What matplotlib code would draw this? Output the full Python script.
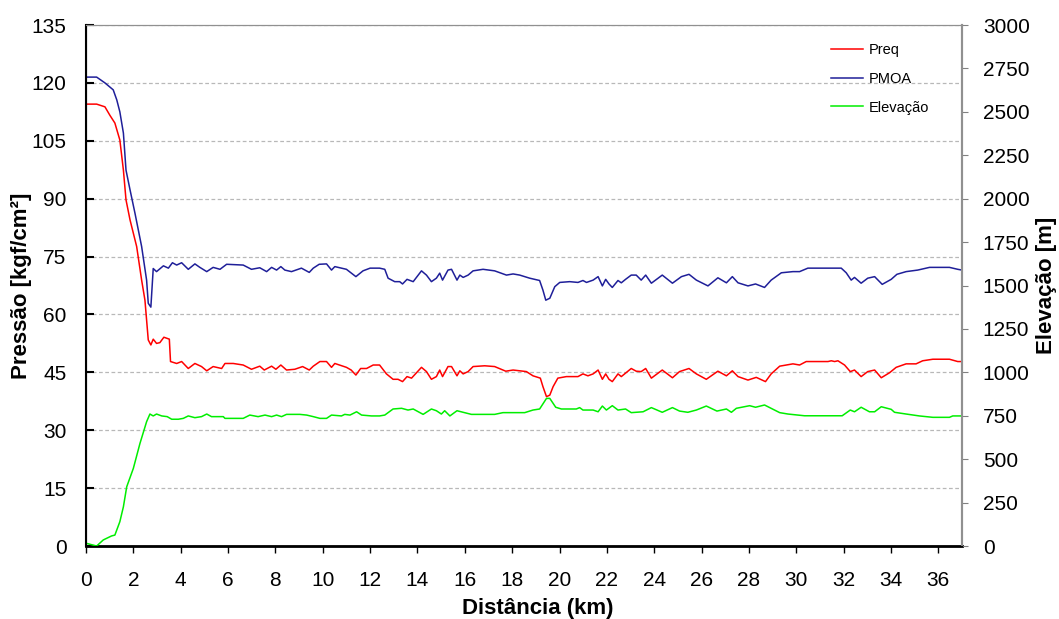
import matplotlib
matplotlib.use("Agg")
from matplotlib import pyplot as plt

plt.rcParams['font.family'] = ['Liberation Sans', 'DejaVu Sans']

# PMOA (kgf/cm2) - distance in km
pmoa_km = [0, 0.45, 0.8, 1.15, 1.3, 1.43, 1.58, 1.69, 1.86, 2.07, 2.35, 2.56, 2.63, 2.74, 2.84, 2.98,
           3.27, 3.48, 3.65, 3.83, 4.04, 4.32, 4.6, 4.81, 5.1, 5.37, 5.66, 5.94, 6.64, 6.99, 7.34, 7.63,
           7.84, 8.05, 8.23, 8.4, 8.68, 9.1, 9.43, 9.6, 9.85, 10.16, 10.37, 10.51, 11.0, 11.4, 11.7, 12.0,
           12.4, 12.62, 12.76, 13.04, 13.25, 13.37, 13.56, 13.82, 14.17, 14.38, 14.59, 14.8, 14.94, 15.06,
           15.29, 15.44, 15.67, 15.79, 15.93, 16.14, 16.35, 16.77, 17.26, 17.76, 18.04, 18.32, 18.74, 19.16,
           19.3, 19.42, 19.59, 19.8, 20.01, 20.43, 20.78, 20.99, 21.14, 21.42, 21.63, 21.81, 21.95, 22.09,
           22.23, 22.47, 22.61, 22.79, 23.03, 23.24, 23.45, 23.64, 23.88, 24.34, 24.77, 25.15, 25.47, 25.78,
           26.27, 26.69, 27.05, 27.3, 27.54, 27.96, 28.28, 28.66, 28.94, 29.37, 29.86, 30.14, 30.49, 31.9,
           32.11, 32.32, 32.46, 32.74, 33.02, 33.31, 33.63, 34.01, 34.25, 34.64, 35.13, 35.63, 36.47, 36.82, 37.0]
pmoa = [121.5, 121.5, 120, 118.2, 115.6, 112.5, 107, 97.4, 92.3, 86.2, 77.6, 68.9, 62.9, 61.9, 71.9, 71.1,
        72.6, 72.0, 73.4, 72.8, 73.4, 71.7, 73.1, 72.2, 71.1, 72.2, 71.7, 73.0, 72.8, 71.7, 72.1, 71.1,
        72.2, 71.5, 72.4, 71.5, 71.1, 72.0, 70.9, 72.0, 73.0, 73.1, 71.5, 72.4, 71.7, 69.8, 71.3, 72.0,
        72.0, 71.7, 69.4, 68.5, 68.5, 67.9, 69.1, 68.5, 71.3, 70.2, 68.5, 69.4, 70.7, 68.9,
        71.5, 71.7, 68.9, 70.2, 69.6, 70.2, 71.3, 71.7, 71.3, 70.2, 70.5, 70.2, 69.4, 68.8,
        66.3, 63.7, 64.2, 67.2, 68.3, 68.5, 68.3, 68.8, 68.3, 68.9, 69.8, 67.4, 69.1, 67.9,
        67.0, 68.8, 68.2, 69.1, 70.2, 70.2, 68.9, 70.2, 68.1, 70.2, 68.1, 69.8, 70.4, 68.9,
        67.4, 69.5, 68.2, 69.8, 68.2, 67.4, 67.9, 67.0, 68.9, 70.8, 71.1, 71.1, 72.0, 72.0,
        70.8, 68.9, 69.6, 68.1, 69.4, 69.8, 67.8, 69.1, 70.4, 71.1, 71.5, 72.2, 72.2, 71.7, 71.5]

# Preq (kgf/cm2)
preq_km = [0, 0.45, 0.8, 1.01, 1.22, 1.43, 1.58, 1.69, 1.86, 2.14, 2.35, 2.49, 2.63, 2.74, 2.84, 2.98,
           3.12, 3.29, 3.52, 3.57, 3.83, 4.04, 4.32, 4.6, 4.88, 5.1, 5.37, 5.73, 5.87, 6.22, 6.64, 6.99,
           7.34, 7.53, 7.84, 8.02, 8.23, 8.47, 8.82, 9.15, 9.43, 9.6, 9.88, 10.16, 10.37, 10.51, 11.0, 11.2,
           11.4, 11.6, 11.85, 12.13, 12.4, 12.69, 12.97, 13.18, 13.37, 13.56, 13.75, 14.17, 14.38, 14.59,
           14.8, 14.94, 15.06, 15.29, 15.44, 15.67, 15.79, 15.93, 16.14, 16.35, 16.84, 17.26, 17.73, 18.04,
           18.6, 18.88, 19.19, 19.3, 19.45, 19.59, 19.73, 19.93, 20.29, 20.78, 20.99, 21.2, 21.42, 21.63,
           21.81, 21.95, 22.09, 22.23, 22.47, 22.61, 22.79, 23.03, 23.24, 23.45, 23.64, 23.88, 24.34, 24.77,
           25.07, 25.47, 25.78, 26.2, 26.69, 27.05, 27.3, 27.54, 27.96, 28.31, 28.7, 28.94, 29.3, 29.86,
           30.14, 30.42, 31.34, 31.48, 31.62, 31.76, 32.04, 32.28, 32.46, 32.74, 33.02, 33.31, 33.59, 33.94,
           34.22, 34.64, 35.06, 35.34, 35.77, 36.47, 36.82, 37.0]
preq = [114.5, 114.5, 113.8, 111.6, 109.6, 105.2, 97.4, 89.7, 84.5, 77.6, 68.9, 63.7, 53.4, 52.1, 53.6, 52.5,
        52.7, 54.1, 53.6, 47.8, 47.3, 47.8, 46.0, 47.3, 46.5, 45.4, 46.5, 46.0, 47.3, 47.3, 46.9, 45.8,
        46.6, 45.6, 46.6, 45.8, 46.9, 45.6, 45.8, 46.5, 45.6, 46.6, 47.8, 47.8, 46.3, 47.3, 46.3, 45.6,
        44.3, 46.0, 46.0, 46.9, 46.9, 44.6, 43.2, 43.2, 42.6, 43.9, 43.5, 46.3, 45.2, 43.2,
        43.9, 45.6, 43.9, 46.5, 46.5, 44.1, 45.4, 44.6, 45.2, 46.5, 46.7, 46.5, 45.3, 45.6,
        45.2, 44.1, 43.5, 41.3, 38.7, 39.1, 41.3, 43.5, 43.9, 43.9, 44.6, 44.1, 44.6, 45.6,
        43.2, 44.6, 43.2, 42.6, 44.6, 43.9, 44.8, 46.0, 45.3, 45.2, 46.0, 43.5, 45.6, 43.6,
        45.2, 46.0, 44.6, 43.2, 45.3, 44.1, 45.4, 43.9, 43.0, 43.7, 42.6, 44.6, 46.6, 47.2,
        46.9, 47.8, 47.8, 48.0, 47.8, 48.0, 46.9, 45.2, 45.6, 43.9, 45.2, 45.6, 43.6, 44.9,
        46.3, 47.2, 47.2, 48.0, 48.4, 48.4, 47.8, 47.8]

# Elevacao (m)
elev_km = [0, 0.03, 0.45, 0.73, 1.08, 1.22, 1.43, 1.58, 1.72, 2.0, 2.28, 2.56, 2.7, 2.84, 2.98, 3.2,
           3.43, 3.62, 3.9, 4.11, 4.32, 4.6, 4.88, 5.1, 5.3, 5.8, 5.87, 6.64, 6.92, 7.27, 7.56, 7.84,
           8.05, 8.26, 8.47, 9.03, 9.32, 9.6, 9.88, 10.16, 10.37, 10.79, 10.93, 11.15, 11.43, 11.64, 12.06,
           12.4, 12.62, 12.97, 13.33, 13.6, 13.82, 14.24, 14.59, 14.8, 15.01, 15.15, 15.37, 15.67, 15.93,
           16.28, 17.26, 17.61, 18.53, 18.88, 19.16, 19.45, 19.59, 19.84, 20.08, 20.71, 20.85, 20.99, 21.42,
           21.63, 21.81, 21.98, 22.23, 22.47, 22.79, 23.03, 23.53, 23.88, 24.34, 24.77, 25.07, 25.42, 25.78,
           26.2, 26.65, 27.05, 27.26, 27.47, 28.03, 28.28, 28.66, 29.3, 29.65, 30.35, 31.94, 32.28, 32.46,
           32.74, 33.09, 33.31, 33.59, 34.01, 34.15, 34.64, 35.2, 35.77, 36.47, 36.61, 37.0]
elev = [10, 15, 0, 35, 58, 63, 140, 226, 341, 447, 591, 716, 760, 749, 760, 749,
        745, 730, 730, 735, 749, 739, 745, 760, 745, 745, 735, 735, 754, 745, 754, 745,
        754, 745, 758, 758, 754, 745, 735, 735, 754, 749, 758, 754, 773, 754, 749,
        749, 754, 789, 793, 783, 789, 758, 789, 779, 760, 779, 749, 779, 770,
        758, 758, 768, 768, 783, 789, 850, 850, 799, 789, 789, 797, 783, 783,
        773, 806, 783, 808, 783, 789, 768, 773, 797, 770, 797, 777, 770, 783,
        806, 777, 789, 770, 793, 808, 799, 812, 768, 760, 750, 750, 783, 773,
        799, 773, 773, 802, 787, 770, 760, 749, 741, 741, 749, 749]

fig, ax = plt.subplots(figsize=(10.59, 6.19), dpi=100)
fig.subplots_adjust(left=0.0812, right=0.9084, top=0.9596, bottom=0.1179)
ax2 = ax.twinx()

l1, = ax.plot(preq_km, preq, color='#ff0000', lw=1.1, label='Preq')
l2, = ax.plot(pmoa_km, pmoa, color='#1f1f99', lw=1.1, label='PMOA')
l3, = ax2.plot(elev_km, elev, color='#00ee00', lw=1.1, label='Elevação')

ax.set_xlim(0, 37)
ax.set_ylim(0, 135)
ax.set_xticks(range(0, 37, 2))
ax.set_yticks(range(0, 136, 15))
ax2.set_ylim(0, 3000)
ax2.set_yticks(range(0, 3001, 250))

ax.yaxis.grid(True, linestyle=(0, (3, 2)), color='#b8b8b8', lw=0.9)
ax.set_axisbelow(True)

ax.tick_params(axis='both', labelsize=15)
ax.tick_params(axis='y', direction='in', length=6, width=1.5, pad=14)
ax.tick_params(axis='x', direction='out', length=5, width=1, pad=13)
ax2.tick_params(axis='y', labelsize=15, direction='out', length=4, color='#808080', pad=11)

for a in (ax, ax2):
    a.spines['top'].set_color('#909090')
    a.spines['right'].set_color('#909090')
    a.spines['right'].set_linewidth(1.5)
ax.spines['left'].set_linewidth(1.5)
ax.spines['bottom'].set_linewidth(2)

ax.set_xlabel('Distância (km)', fontsize=16, fontweight='bold')
ax.set_ylabel('Pressão [kgf/cm²]', fontsize=16, fontweight='bold')
ax2.set_ylabel('Elevação [m]', fontsize=16, fontweight='bold')
ax.xaxis.set_label_coords(0.516, -0.1)
ax.yaxis.set_label_coords(-0.0616, 0.5)
ax2.yaxis.set_label_coords(1.0845, 0.5)

ax.legend(handles=[l1, l2, l3], loc='upper right', frameon=False, fontsize=10.5,
          handlelength=2.2, handletextpad=0.4, labelspacing=1.0, bbox_to_anchor=(0.978, 0.99))

fig.savefig('out.png', dpi=100)
